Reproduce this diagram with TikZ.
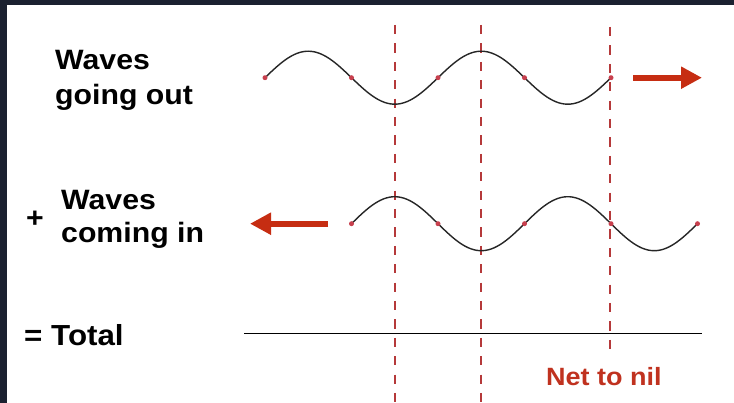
\documentclass[tikz,border=0pt]{standalone}
\usepackage{fontspec}
\setmainfont{Liberation Sans}[FakeStretch=1.08]
\usepackage{tikz}
\usetikzlibrary{arrows.meta}
\definecolor{wvdark}{HTML}{1B2130}
\definecolor{wvred}{HTML}{B5393A}
\definecolor{wvdot}{HTML}{C8404E}
\definecolor{wvarrow}{HTML}{C62D12}
\definecolor{wvtext}{HTML}{C0321F}

\begin{document}
\begin{tikzpicture}[
  x=1pt, y=-1pt,
  lbl/.style={font=\fontsize{28}{32}\selectfont\bfseries, anchor=base west, inner sep=0pt},
  wave/.style={draw=black!85, line width=1.4pt},
  zero/.style={circle, fill=wvdot, inner sep=0pt, minimum size=5pt},
  netline/.style={draw=wvred, line width=1.5pt, dash pattern=on 9.2pt off 9.2pt},
  flow/.style={draw=wvarrow, line width=6pt, -{Triangle[length=21pt, width=21pt]}},
]
% Cadre
\fill[wvdark] (0,0) rectangle (734,403);
\fill[white] (7,5) rectangle (734,403);
\useasboundingbox (0,0) rectangle (734,403);

% Lignes des noeuds
\foreach \xc/\yt/\yb [count=\i] in {395/25/403, 481/25/403, 610/27/354} {
  \coordinate (nt\i) at (\xc,\yt);
  \coordinate (nb\i) at (\xc,\yb);
  \draw[netline] (nt\i) -- (nb\i);
}

% Onde sortante
\node[lbl] (outA) at (55,70) {Waves};
\node[lbl] (outB) at (55,105) {going out};
\draw[wave] plot[domain=0:346, samples=120, smooth] ({265+\x}, {77.7-26.5*sin(\x*2.0809)});
\foreach \k in {0,...,4} {
  \node[zero] (o\k) at ({265+86.5*\k}, 77.7) {};
}
\coordinate (outS) at (633,77.7);
\coordinate (outE) at (702,77.7);
\draw[flow] (outS) -- (outE);

% Onde entrante
\node[lbl, anchor=base] (plus) at (35,228) {+};
\node[lbl] (inA) at (61,210) {Waves};
\node[lbl] (inB) at (61,243) {coming in};
\draw[wave] plot[domain=0:346, samples=120, smooth] ({351.5+\x}, {223.7-27*sin(\x*2.0809)});
\foreach \k in {0,...,4} {
  \node[zero] (i\k) at ({351.5+86.5*\k}, 223.7) {};
}
\coordinate (inS) at (328,223.7);
\coordinate (inE) at (250,223.7);
\draw[flow] (inS) -- (inE);

% Somme
\node[lbl, font=\fontsize{29}{32}\selectfont\bfseries] (total) at (24,346) {= Total};
\coordinate (totS) at (244,333.5);
\coordinate (totE) at (702,333.5);
\draw[line width=1.5pt] (totS) -- (totE);
\node[lbl, font=\fontsize{25}{30}\selectfont\bfseries, text=wvtext] (nil) at (546,385) {Net to nil};

\end{tikzpicture}
\end{document}
